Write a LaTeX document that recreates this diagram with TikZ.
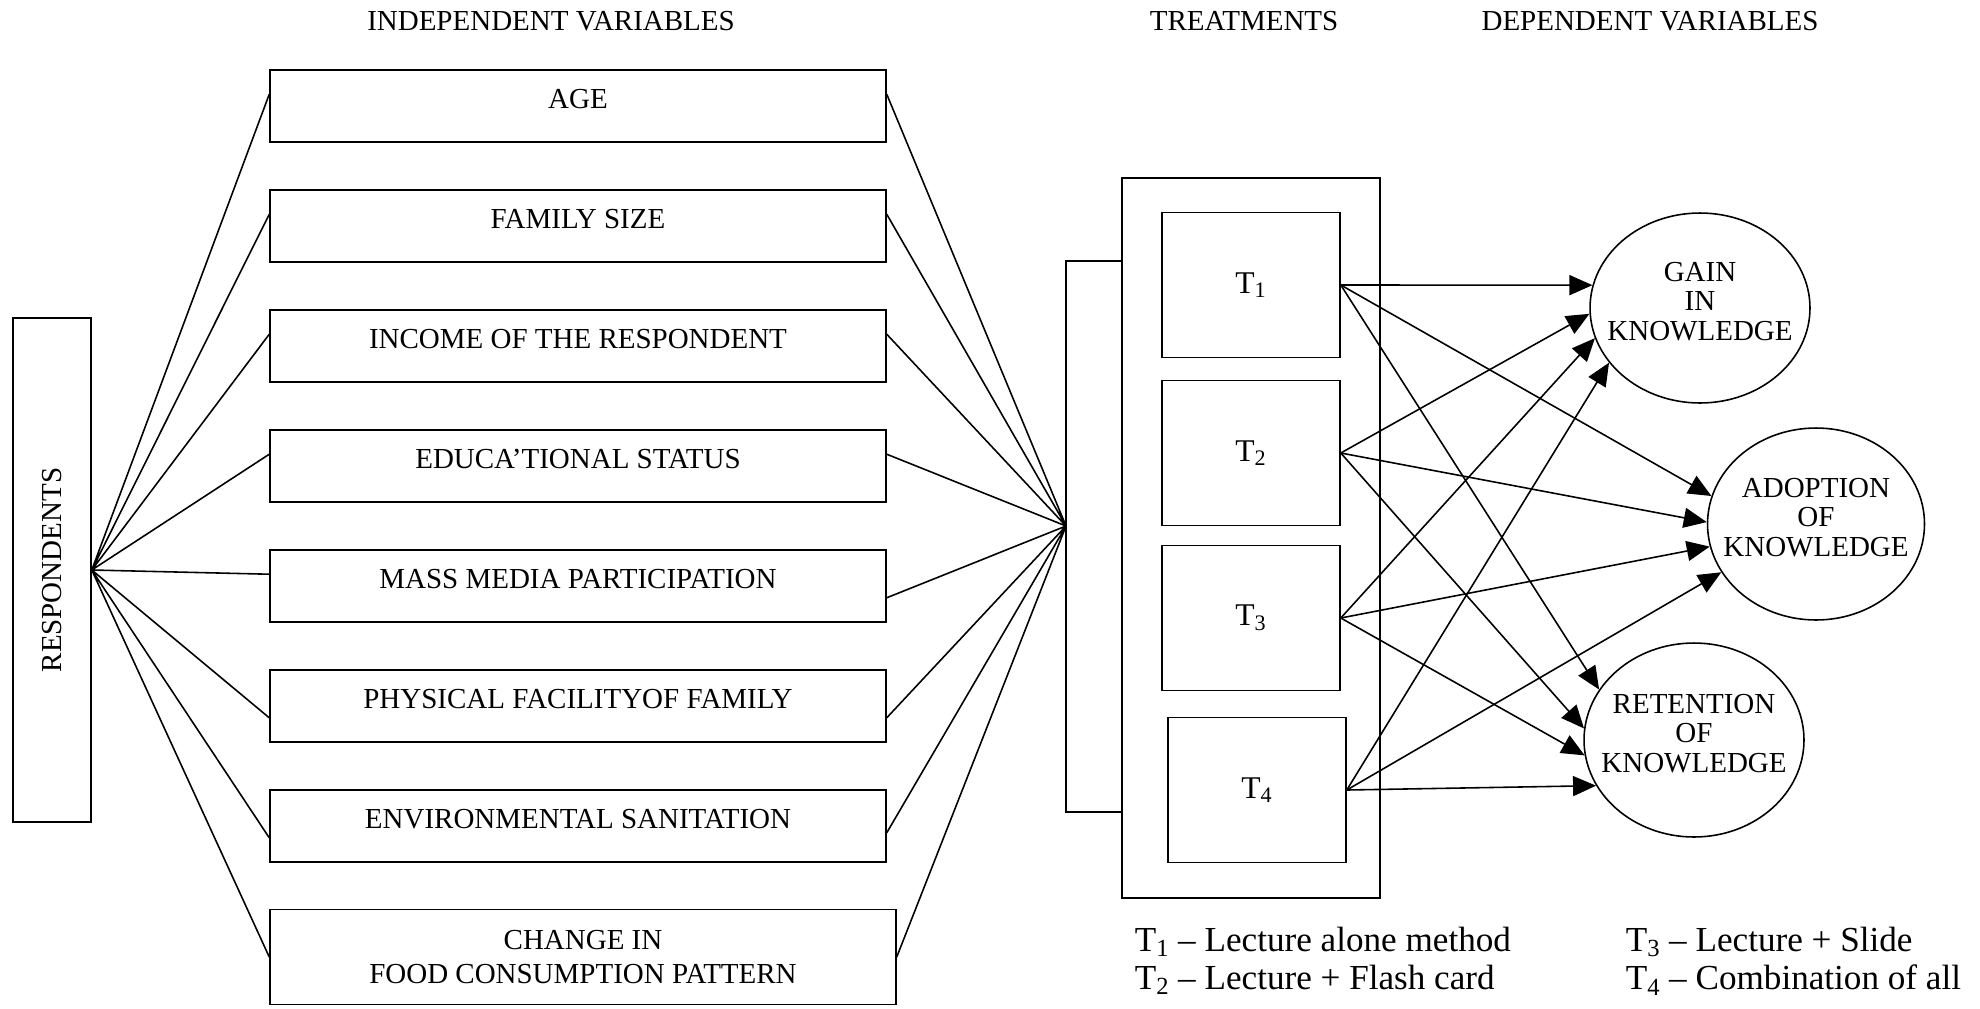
\documentclass[tikz,border=0pt]{standalone}
\usepackage{fontspec}
\setmainfont{Liberation Serif}
\usetikzlibrary{arrows.meta,shapes.geometric}

\begin{document}
\begin{tikzpicture}[x=0.02cm,y=-0.02cm,line width=0.9pt,
  font=\fontsize{16.5}{19}\selectfont,
  var/.style={rectangle,draw,minimum width=12.32cm,minimum height=1.44cm,text height=0.4cm,text depth=0.3cm},
  tbox/.style={rectangle,draw,minimum width=3.56cm,minimum height=2.9cm,font=\fontsize{18}{20}\selectfont},
  dep/.style={ellipse,draw,inner sep=0pt},
  deptext/.style={align=center,yshift=1.3mm,font=\fontsize{16.5}{17}\selectfont},
  arr/.style={-{Triangle[length=0.46cm,width=0.4cm]}},
  leg/.style={anchor=west,inner sep=0pt,font=\fontsize{20}{22}\selectfont}]
\useasboundingbox (0,0) rectangle (1980,1008);

\node (h1) at (551,21) {INDEPENDENT VARIABLES};
\node (h2) at (1244,21) {TREATMENTS};
\node (h3) at (1650,21) {DEPENDENT VARIABLES};

\node [rectangle,draw,minimum width=1.56cm,minimum height=10.08cm] (resp) at (52,570) {\rotatebox{90}{RESPONDENTS}};

\node [var] (age) at (578,106) {AGE};
\node [var] (fam) at (578,226) {FAMILY SIZE};
\node [var] (inc) at (578,346) {INCOME OF THE RESPONDENT};
\node [var] (edu) at (578,466) {EDUCA’TIONAL STATUS};
\node [var] (mass) at (578,586) {MASS MEDIA PARTICIPATION};
\node [var] (phys) at (578,706) {PHYSICAL FACILITYOF FAMILY};
\node [var] (env) at (578,826) {ENVIRONMENTAL SANITATION};
\node [rectangle,draw,minimum width=12.52cm,minimum height=1.9cm,align=center] (food) at (583,957) {CHANGE IN\\FOOD CONSUMPTION PATTERN};

\node [rectangle,draw,minimum width=5.16cm,minimum height=14.4cm] (treat) at (1251,538) {};
\node [tbox] (t1) at (1251,285) {T\textsubscript{1}};
\node [tbox] (t2) at (1251,453) {T\textsubscript{2}};
\node [tbox] (t3) at (1251,618) {T\textsubscript{3}};
\node [tbox] (t4) at (1257,790) {T\textsubscript{4}};
\coordinate (hub) at (1066,526);

\node [dep,minimum width=4.4cm,minimum height=3.8cm,label={[deptext]center:GAIN\\IN\\KNOWLEDGE}] (gain) at (1700,308) {};
\node [dep,minimum width=4.34cm,minimum height=3.84cm,label={[deptext]center:ADOPTION\\OF\\KNOWLEDGE}] (adopt) at (1816,524) {};
\node [dep,minimum width=4.4cm,minimum height=3.88cm,label={[deptext]center:RETENTION\\OF\\KNOWLEDGE}] (ret) at (1694,740) {};

\draw (resp.east) -- ([yshift=-5mm]age.north west)
      (resp.east) -- ([yshift=-5mm]fam.north west)
      (resp.east) -- ([yshift=-5mm]inc.north west)
      (resp.east) -- ([yshift=-5mm]edu.north west)
      (resp.east) -- ([yshift=-5mm]mass.north west)
      (resp.east) -- ([yshift=5mm]phys.south west)
      (resp.east) -- ([yshift=5mm]env.south west)
      (resp.east) -- (food.west);

\draw ([yshift=-5mm]age.north east) -- (hub)
      ([yshift=-5mm]fam.north east) -- (hub)
      ([yshift=-5mm]inc.north east) -- (hub)
      ([yshift=-5mm]edu.north east) -- (hub)
      ([yshift=5mm]mass.south east) -- (hub)
      ([yshift=5mm]phys.south east) -- (hub)
      ([yshift=6mm]env.south east) -- (hub)
      (food.east) -- (hub);
\draw ([yshift=-1.68cm]treat.north west) -| (hub) |- ([yshift=1.74cm]treat.south west);

\draw [arr] (t1.east) -- (gain.168);
\draw [arr] (t1.east) -- (adopt.165);
\draw [arr] (t1.east) -- (ret.152);
\draw [arr] (t2.east) -- (gain.183);
\draw [arr] (t2.east) -- (adopt.179);
\draw [arr] (t2.east) -- (ret.174);
\draw [arr] (t3.east) -- (gain.196);
\draw [arr] (t3.east) -- (adopt.192);
\draw [arr] (t3.east) -- (ret.188);
\draw [arr] (t4.east) -- (gain.211);
\draw [arr] (t4.east) -- (adopt.207);
\draw [arr] (t4.east) -- (ret.205);

\node [leg] (l1) at (1134,942) {T\textsubscript{1} – Lecture alone method};
\node [leg] (l2) at (1134,980) {T\textsubscript{2} – Lecture + Flash card};
\node [leg] (l3) at (1625,942) {T\textsubscript{3} – Lecture + Slide};
\node [leg] (l4) at (1625,980) {T\textsubscript{4} – Combination of all};
\end{tikzpicture}
\end{document}
